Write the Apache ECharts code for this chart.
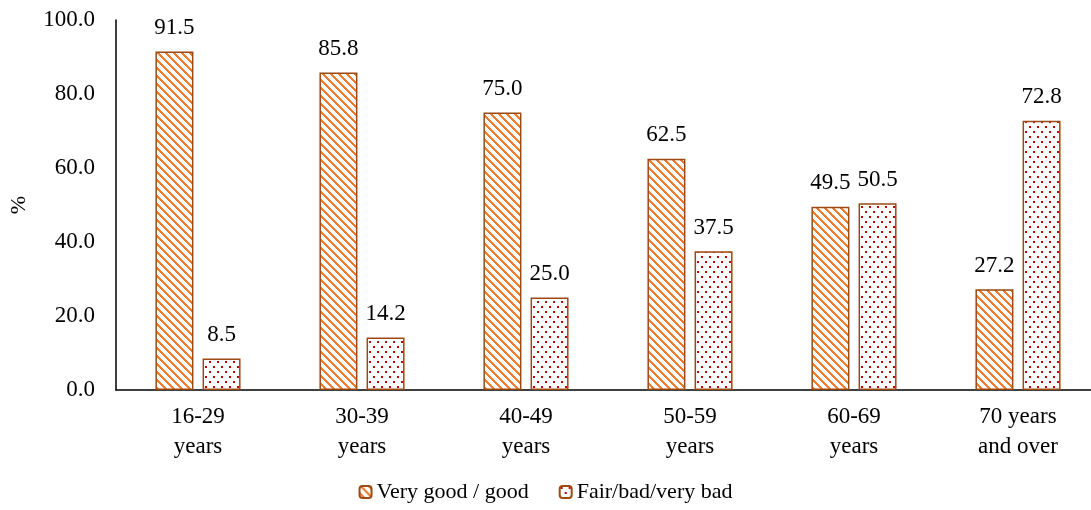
<!DOCTYPE html>
<html>
<head>
<meta charset="utf-8">
<script src="https://cdn.jsdelivr.net/npm/echarts@6/dist/echarts.min.js"></script>
<style>
html,body{margin:0;padding:0;background:#fff;}
#chart{width:1091px;height:510px;}
</style>
</head>
<body>
<div id="chart"></div>
<script>
var categories = ['16-29\nyears', '30-39\nyears', '40-49\nyears', '50-59\nyears', '60-69\nyears', '70 years\nand over'];
var seriesNames = ['Very good / good', 'Fair/bad/very bad'];
var goodValues = [91.5, 85.8, 75.0, 62.5, 49.5, 27.2];
var badValues = [8.5, 14.2, 25.0, 37.5, 50.5, 72.8];
var yTicks = [0, 20, 40, 60, 80, 100];

function stripePattern() {
  var c = document.createElement('canvas');
  c.width = 8; c.height = 8;
  var ctx = c.getContext('2d');
  ctx.fillStyle = '#ffffff';
  ctx.fillRect(0, 0, 8, 8);
  ctx.fillStyle = '#ED7D31';
  for (var y = 0; y < 8; y++) {
    for (var x = 0; x < 8; x++) {
      if (((x - y) % 8 + 8) % 8 < 3) ctx.fillRect(x, y, 1, 1);
    }
  }
  return {image: c, repeat: 'repeat'};
}
function dotPattern() {
  var c = document.createElement('canvas');
  c.width = 8; c.height = 10;
  var ctx = c.getContext('2d');
  ctx.fillStyle = '#ffffff';
  ctx.fillRect(0, 0, 8, 10);
  ctx.fillStyle = '#C00000';
  ctx.fillRect(1, 1, 2, 2);
  ctx.fillRect(5, 6, 2, 2);
  return {image: c, repeat: 'repeat'};
}

var font = '"Liberation Serif", "Times New Roman", serif';
var chart = echarts.init(document.getElementById('chart'), null, {renderer: 'canvas'});
var labelStyle = {
  show: true, position: 'top', distance: 12,
  fontFamily: font, fontSize: 23, color: '#000',
  formatter: function (p) { return p.value.toFixed(1); }
};
chart.setOption({
  animation: false,
  backgroundColor: '#ffffff',
  textStyle: {fontFamily: font},
  grid: {left: 116, right: -9, top: 20, bottom: 120, containLabel: false, outerBoundsMode: 'none'},
  legend: {
    bottom: 2, left: 'center',
    itemWidth: 12, itemHeight: 12, itemGap: 30,
    textStyle: {fontFamily: font, fontSize: 22, color: '#000'},
    data: seriesNames
  },
  xAxis: {
    type: 'category',
    data: categories,
    axisLine: {lineStyle: {color: '#000', width: 1.5}},
    axisTick: {show: false},
    axisLabel: {fontFamily: font, fontSize: 23, color: '#000', lineHeight: 30, margin: 12, interval: 0}
  },
  yAxis: {
    type: 'value', min: 0, max: 100, interval: 20,
    name: '%', nameLocation: 'middle', nameGap: 86,
    nameTextStyle: {fontFamily: font, fontSize: 22, color: '#000'},
    axisLine: {show: true, lineStyle: {color: '#000', width: 1.5}},
    axisTick: {show: false},
    splitLine: {show: false},
    axisLabel: {fontFamily: font, fontSize: 23, color: '#000', margin: 21,
      formatter: function (v) { return yTicks.indexOf(v) >= 0 ? v.toFixed(1) : ''; }}
  },
  series: [
    {
      name: seriesNames[0], type: 'bar', data: goodValues,
      barWidth: 38, barGap: '24%',
      itemStyle: {color: stripePattern(), borderColor: '#9C4A12', borderWidth: 1.5},
      label: labelStyle
    },
    {
      name: seriesNames[1], type: 'bar', data: badValues,
      barWidth: 38, barGap: '24%',
      itemStyle: {color: dotPattern(), borderColor: '#9C4A12', borderWidth: 1.5},
      label: labelStyle
    }
  ]
});
</script>
</body>
</html>
